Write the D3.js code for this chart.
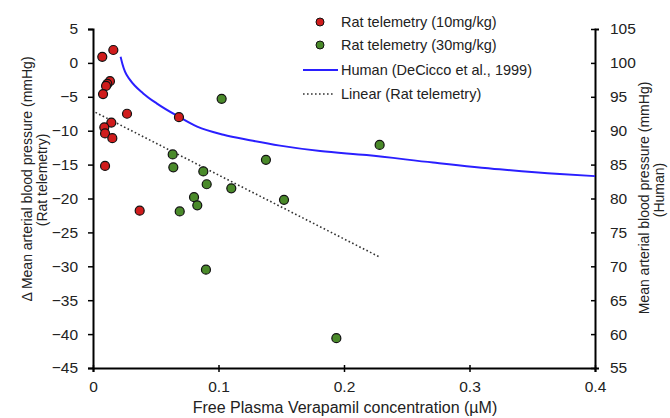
<!DOCTYPE html>
<html>
<head>
<meta charset="utf-8">
<script src="https://cdn.jsdelivr.net/npm/d3@7"></script>
<style>
  body { margin: 0; background: #fff; }
  svg text { font-family: "Liberation Sans", Arial, sans-serif; fill: #222; }
</style>
</head>
<body>
<svg width="670" height="418"></svg>
<script>
// rat telemetry, 10 mg/kg: free conc (uM) vs change in MAP (mmHg)
const rat10X = [0.0074, 0.0162, 0.0135, 0.0114, 0.0104, 0.0080, 0.0271, 0.0685, 0.0146, 0.0090, 0.0096, 0.0154, 0.0096, 0.0372];
const rat10Y = [0.9, 1.9, -2.7, -3.1, -3.4, -4.6, -7.5, -8.0, -8.8, -9.5, -10.4, -11.1, -15.2, -21.8];
// rat telemetry, 30 mg/kg
const rat30X = [0.0635, 0.0640, 0.0805, 0.0831, 0.0691, 0.1025, 0.0879, 0.0906, 0.1102, 0.1378, 0.1522, 0.0900, 0.2284, 0.1939];
const rat30Y = [-13.5, -15.4, -19.8, -21.0, -21.9, -5.3, -16.0, -17.9, -18.5, -14.3, -20.2, -30.5, -12.1, -40.6];
// human curve (DeCicco et al., 1999), right axis
const humanX = [0.022, 0.0235, 0.0255, 0.0295, 0.040, 0.051, 0.067, 0.083, 0.104, 0.125, 0.149, 0.181, 0.218, 0.271, 0.324, 0.372, 0.4];
const humanY = [100.9, 99.8, 98.7, 97.5, 95.5, 94.0, 92.2, 90.6, 89.4, 88.6, 87.8, 87.0, 86.4, 85.3, 84.3, 83.6, 83.3];
// linear trend (rat telemetry) end points
const trendX = [0.002, 0.228];
const trendY = [-7.3, -28.6];

const xTicks = [0, 0.1, 0.2, 0.3, 0.4];
const leftTicks = [5, 0, -5, -10, -15, -20, -25, -30, -35, -40, -45];
const rightTicks = [105, 100, 95, 90, 85, 80, 75, 70, 65, 60, 55];

const svg = d3.select('svg');
const mLeft = 93, mRight = 595, mTop = 29, mBottom = 368;

const x = d3.scaleLinear().domain([0, 0.4]).range([mLeft, mRight]);
const yL = d3.scaleLinear().domain([-45, 5]).range([mBottom, mTop]);
const yR = d3.scaleLinear().domain([55, 105]).range([mBottom, mTop]);

const tickFs = 15.5, legFs = 14.5, titleFs = 14;

// axes
const gx = svg.append('g').attr('transform', `translate(0,${mBottom})`)
  .call(d3.axisBottom(x).tickValues(xTicks).tickSizeOuter(0).tickSize(4).tickPadding(9).tickFormat(d => d === 0 ? '0' : d3.format('.1f')(d)));
gx.selectAll('.tick line').attr('y1', -3).attr('y2', 4);

const gl = svg.append('g').attr('transform', `translate(${mLeft},0)`)
  .call(d3.axisLeft(yL).tickValues(leftTicks).tickSizeOuter(0).tickSize(5).tickPadding(10));

const gr = svg.append('g').attr('transform', `translate(${mRight},0)`)
  .call(d3.axisRight(yR).tickValues(rightTicks).tickSizeOuter(0).tickSize(4).tickPadding(11));
gr.selectAll('.tick line').attr('x1', -4).attr('x2', 1);

[gx, gl, gr].forEach(g => {
  g.select('.domain').attr('stroke', '#000').attr('stroke-width', 2);
  g.selectAll('.tick line').attr('stroke', '#000').attr('stroke-width', 1.5);
  g.selectAll('.tick text').attr('font-size', tickFs).attr('fill', '#222')
    .style('font-family', '"Liberation Sans", Arial, sans-serif');
});

// axis titles
svg.append('text').attr('x', 345).attr('y', 413).attr('text-anchor', 'middle')
  .attr('font-size', 16).text('Free Plasma Verapamil concentration (µM)');

svg.append('text').attr('transform', 'translate(32,179) rotate(-90)').attr('text-anchor', 'middle')
  .attr('font-size', titleFs).text('Δ Mean arterial blood pressure (mmHg)');
svg.append('text').attr('transform', 'translate(47,180) rotate(-90)').attr('text-anchor', 'middle')
  .attr('font-size', titleFs).text('(Rat telemetry)');

svg.append('text').attr('transform', 'translate(649,198) rotate(-90)').attr('text-anchor', 'middle')
  .attr('font-size', titleFs).text('Mean arterial blood pressure (mmHg)');
svg.append('text').attr('transform', 'translate(664,190) rotate(-90)').attr('text-anchor', 'middle')
  .attr('font-size', titleFs).text('(Human)');

// human line
const human = humanX.map((d, i) => [d, humanY[i]]);
svg.append('path').datum(human)
  .attr('fill', 'none').attr('stroke', '#2a1fff').attr('stroke-width', 2)
  .attr('d', d3.line().x(d => x(d[0])).y(d => yR(d[1])).curve(d3.curveMonotoneX));

// trend line
const trend = trendX.map((d, i) => [d, trendY[i]]);
svg.append('path').datum(trend)
  .attr('fill', 'none').attr('stroke', '#333').attr('stroke-width', 1.6)
  .attr('stroke-dasharray', '1.6,2.4')
  .attr('d', d3.line().x(d => x(d[0])).y(d => yL(d[1])));

// points
const red = '#d01c1c', green = '#4a8a2a';
svg.append('g').selectAll('circle').data(rat10X).join('circle')
  .attr('cx', d => x(d)).attr('cy', (d, i) => yL(rat10Y[i])).attr('r', 4.5)
  .attr('fill', red).attr('stroke', '#111').attr('stroke-width', 1.2);
svg.append('g').selectAll('circle').data(rat30X).join('circle')
  .attr('cx', d => x(d)).attr('cy', (d, i) => yL(rat30Y[i])).attr('r', 4.5)
  .attr('fill', green).attr('stroke', '#111').attr('stroke-width', 1.2);

// legend
const lg = svg.append('g');
const rows = [
  { label: 'Rat telemetry (10mg/kg)', kind: 'dot', color: red },
  { label: 'Rat telemetry (30mg/kg)', kind: 'dot', color: green },
  { label: 'Human (DeCicco et al., 1999)', kind: 'line' },
  { label: 'Linear (Rat telemetry)', kind: 'dash' }
];
const rowY = [22, 45, 70, 94];
rows.forEach((r, i) => {
  const yy = rowY[i];
  if (r.kind === 'dot') {
    lg.append('circle').attr('cx', 320).attr('cy', yy).attr('r', 4)
      .attr('fill', r.color).attr('stroke', '#111').attr('stroke-width', 1);
  } else if (r.kind === 'line') {
    lg.append('line').attr('x1', 303).attr('x2', 338).attr('y1', yy).attr('y2', yy)
      .attr('stroke', '#2a1fff').attr('stroke-width', 2);
  } else {
    lg.append('line').attr('x1', 303).attr('x2', 335).attr('y1', yy).attr('y2', yy)
      .attr('stroke', '#333').attr('stroke-width', 1.6).attr('stroke-dasharray', '1.6,2.4');
  }
  lg.append('text').attr('x', 341).attr('y', yy + 5).attr('font-size', legFs).text(r.label);
});
</script>
</body>
</html>
